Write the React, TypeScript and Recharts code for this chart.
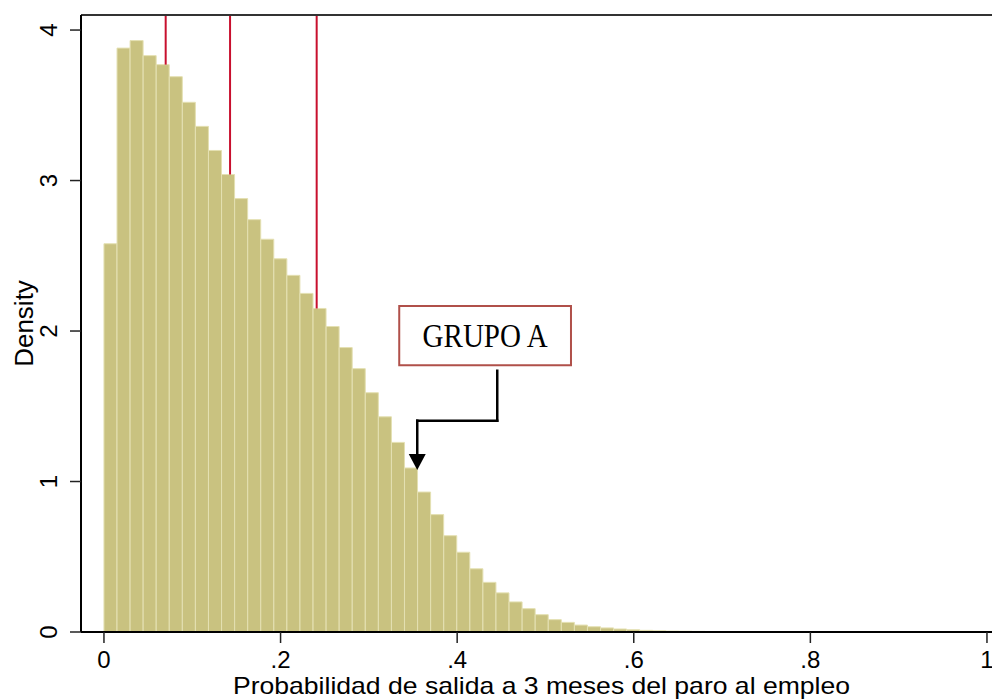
import React from 'react';
import {
  ComposedChart,
  Bar,
  XAxis,
  YAxis,
  ReferenceLine,
  ReferenceArea,
  ReferenceDot,
} from 'recharts';

// Histogram bins (lower edge of first bin and bin width on the x scale)
const binStart = 0;
const binWidth = 0.0148;

// Density of each bin
const densities = [
  2.58, 3.88, 3.93, 3.83, 3.77, 3.69, 3.52, 3.36, 3.2, 3.04,
  2.88, 2.74, 2.61, 2.48, 2.37, 2.25, 2.15, 2.03, 1.89, 1.75,
  1.59, 1.43, 1.26, 1.09, 0.93, 0.78, 0.64, 0.53, 0.42, 0.33,
  0.26, 0.2, 0.155, 0.115, 0.082, 0.064, 0.046, 0.035, 0.027, 0.02,
  0.015, 0.011, 0.008, 0.006, 0.005, 0.004, 0.003, 0.002, 0.0015, 0.001,
  0.001, 0.0008, 0.0006, 0.0005, 0.0004,
];

const xTicks = [0, 0.2, 0.4, 0.6, 0.8, 1];
const yTicks = [0, 1, 2, 3, 4];
const xDomain: [number, number] = [-0.026, 1.0057];
const yDomain: [number, number] = [0, 4.1];

// Vertical red marker lines (x values)
const markerLines = [0.0699, 0.1428, 0.2409];

// Annotation
const annotationLabel = 'GRUPO A';
const annotationBox = { x1: 0.3344, x2: 0.5289, y1: 1.772, y2: 2.166 };
const arrowPoints = [
  { x: 0.4454, y: 1.736 },
  { x: 0.4454, y: 1.404 },
  { x: 0.3548, y: 1.404 },
  { x: 0.3548, y: 1.16 },
];
const arrowTip = { x: 0.3548, y: 1.076 };

const xTitle = 'Probabilidad de salida a 3 meses del paro al empleo';
const yTitle = 'Density';

const data = densities.map((d, i) => ({
  x: binStart + (i + 0.5) * binWidth,
  density: d,
}));

const heightAt = (x: number) => {
  const idx = Math.floor((x - binStart) / binWidth);
  return densities[idx] ?? 0;
};

const SANS = '"Liberation Sans", Arial, Helvetica, sans-serif';
const SERIF = '"Liberation Serif", "Times New Roman", serif';

const fmtX = (v: number) => {
  if (v === 0) return '0';
  if (v === 1) return '1';
  return String(Number(v.toFixed(1))).replace(/^0/, '');
};

const XTick = (props: any) => {
  const { x, y, payload } = props;
  return (
    <text x={x} y={y + 23} textAnchor="middle" fontSize={24} fill="#000" fontFamily={SANS}>
      {fmtX(payload.value)}
    </text>
  );
};

const YTick = (props: any) => {
  const { x, y, payload } = props;
  const bx = x - 11;
  return (
    <text
      x={bx}
      y={y}
      transform={`rotate(-90 ${bx} ${y})`}
      textAnchor="middle"
      fontSize={24}
      fill="#000"
      fontFamily={SANS}
    >
      {payload.value}
    </text>
  );
};

const ArrowHead = (props: any) => {
  const { cx, cy } = props;
  if (cx == null || cy == null) return null;
  return <path d={`M${cx - 8.5},${cy - 16} L${cx + 8.5},${cy - 16} L${cx},${cy} Z`} fill="#000" />;
};

export default function App() {
  return (
    <div style={{ position: 'absolute', left: 0, top: 0, width: 992, height: 699, background: '#fff', overflow: 'hidden' }}>
      <ComposedChart
        width={992}
        height={699}
        data={data}
        margin={{ top: 15, right: 0, left: 0, bottom: 0 }}
        barCategoryGap={0}
        barGap={0}
      >
        <XAxis
          dataKey="x"
          type="number"
          domain={xDomain}
          ticks={xTicks}
          allowDataOverflow
          height={67}
          tickSize={11}
          axisLine={{ stroke: '#000', strokeWidth: 2 }}
          tickLine={{ stroke: '#222', strokeWidth: 1.5 }}
          tick={<XTick />}
          interval={0}
          label={{
            content: (p: any) => {
              const vb = p.viewBox || {};
              return (
                <text
                  x={(vb.x ?? 81) + (vb.width ?? 911) / 2 + 5}
                  y={(vb.y ?? 632) + 62}
                  textAnchor="middle"
                  fontSize={24}
                  fill="#000"
                  fontFamily={SANS}
                  textLength={617}
                  lengthAdjust="spacingAndGlyphs"
                >
                  {xTitle}
                </text>
              );
            },
          }}
        />
        <YAxis
          type="number"
          domain={yDomain}
          ticks={yTicks}
          allowDataOverflow
          width={81}
          tickSize={11}
          axisLine={{ stroke: '#000', strokeWidth: 2 }}
          tickLine={{ stroke: '#222', strokeWidth: 1.5 }}
          tick={<YTick />}
          interval={0}
          label={{
            content: (p: any) => {
              const vb = p.viewBox || {};
              const cx = (vb.x ?? 0) + 33;
              const cy = (vb.y ?? 15) + (vb.height ?? 617) / 2;
              return (
                <text
                  x={cx}
                  y={cy}
                  transform={`rotate(-90 ${cx} ${cy})`}
                  textAnchor="middle"
                  fontSize={26}
                  fill="#000"
                  fontFamily={SANS}
                >
                  {yTitle}
                </text>
              );
            },
          }}
        />
        {markerLines.map((mx) => (
          <ReferenceLine
            key={mx}
            segment={[
              { x: mx, y: yDomain[1] },
              { x: mx, y: heightAt(mx) },
            ]}
            stroke="#c8102e"
            strokeWidth={2}
            ifOverflow="extendDomain"
          />
        ))}
        <Bar
          dataKey="density"
          fill="#c9c280"
          stroke="#e4e0b2"
          strokeWidth={1}
          isAnimationActive={false}
        />
        <ReferenceLine y={yDomain[1]} stroke="#333" strokeWidth={2} />
        <ReferenceArea
          x1={annotationBox.x1}
          x2={annotationBox.x2}
          y1={annotationBox.y1}
          y2={annotationBox.y2}
          fill="#fff"
          fillOpacity={1}
          stroke="#b0504a"
          strokeWidth={2}
          label={{
            content: (p: any) => {
              const vb = p.viewBox || {};
              return (
                <text
                  x={vb.x + vb.width / 2}
                  y={vb.y + vb.height / 2 + 11.5}
                  textAnchor="middle"
                  fontSize={34}
                  fill="#000"
                  fontFamily={SERIF}
                  textLength={125}
                  lengthAdjust="spacingAndGlyphs"
                >
                  {annotationLabel}
                </text>
              );
            },
          }}
        />
        {arrowPoints.slice(1).map((pt, i) => (
          <ReferenceLine
            key={`arrow-${i}`}
            segment={[arrowPoints[i], pt]}
            stroke="#000"
            strokeWidth={2.5}
            strokeLinecap="square"
          />
        ))}
        <ReferenceDot x={arrowTip.x} y={arrowTip.y} r={8} shape={<ArrowHead />} />
      </ComposedChart>
    </div>
  );
}
